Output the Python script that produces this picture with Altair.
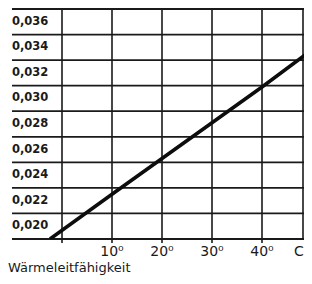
import altair as alt
import pandas as pd

# --- data ---
grid_temps = [0, 10, 20, 30, 40]
grid_lambda = [0.019, 0.021, 0.023, 0.025, 0.027, 0.029, 0.031, 0.033, 0.035, 0.037]
y_label_values = [0.020, 0.022, 0.024, 0.026, 0.028, 0.030, 0.032, 0.034, 0.036]
y_label_texts = ["0,020", "0,022", "0,024", "0,026", "0,028", "0,030", "0,032", "0,034", "0,036"]
x_label_values = [10, 20, 30, 40]
x_label_texts = ["10⁰", "20⁰", "30⁰", "40⁰"]
unit_pos = [47.4]
unit_text = ["C"]
line_temp = [-2.4, 10, 20, 30, 40, 50]
line_lambda = [0.0190, 0.0225, 0.0253, 0.0281, 0.0309, 0.0338]
caption = ["Wärmeleitfähigkeit"]

W, H = 292, 230
FONT = "DejaVu Sans"
INK = "#1a1a1a"

xs = alt.Scale(domain=[-10, 48.4], nice=False, zero=False)
ys = alt.Scale(domain=[0.019, 0.037], nice=False, zero=False)

hgrid = alt.Chart(pd.DataFrame({"lam": grid_lambda})).mark_rule(
    color=INK, strokeWidth=1.8
).encode(
    y=alt.Y("lam:Q", scale=ys, axis=None),
    x=alt.value(0), x2=alt.value(W),
)

vgrid = alt.Chart(pd.DataFrame({"t": grid_temps})).mark_rule(
    color=INK, strokeWidth=1.6
).encode(
    x=alt.X("t:Q", scale=xs, axis=None),
    y=alt.value(0), y2=alt.value(H + 4),
)

right_edge = alt.Chart(pd.DataFrame({"a": [0]})).mark_rule(
    color=INK, strokeWidth=1.6
).encode(x=alt.value(W - 1), y=alt.value(0), y2=alt.value(H))

ylabels = alt.Chart(pd.DataFrame({"v": y_label_values, "s": y_label_texts})).mark_text(
    align="left", baseline="middle", font=FONT, fontSize=11.5, fontWeight="bold", color=INK
).encode(
    y=alt.Y("v:Q", scale=ys, axis=None),
    x=alt.value(0),
    text="s:N",
)

xlabels = alt.Chart(pd.DataFrame({"t": x_label_values, "s": x_label_texts})).mark_text(
    align="center", baseline="alphabetic", font=FONT, fontSize=14, color=INK
).encode(
    x=alt.X("t:Q", scale=xs, axis=None),
    y=alt.value(H + 17),
    text="s:N",
)

unit = alt.Chart(pd.DataFrame({"t": unit_pos, "s": unit_text})).mark_text(
    align="center", baseline="alphabetic", font=FONT, fontSize=14, color=INK
).encode(
    x=alt.X("t:Q", scale=xs, axis=None),
    y=alt.value(H + 17),
    text="s:N",
)

cap = alt.Chart(pd.DataFrame({"s": caption})).mark_text(
    align="left", baseline="alphabetic", font=FONT, fontSize=13, color=INK
).encode(x=alt.value(-4), y=alt.value(H + 33), text="s:N")

line = alt.Chart(pd.DataFrame({"t": line_temp, "lam": line_lambda})).mark_line(
    color="#0d0d0d", strokeWidth=3.6, clip=True
).encode(
    x=alt.X("t:Q", scale=xs, axis=None),
    y=alt.Y("lam:Q", scale=ys, axis=None),
)

chart = alt.layer(hgrid, vgrid, right_edge, line, ylabels, xlabels, unit, cap).properties(
    width=W, height=H,
    padding={"left": 4, "top": 1, "right": 0, "bottom": 37},
    autosize=alt.AutoSizeParams(type="none"),
    background="white",
).configure_view(stroke=None)

chart.save("out.html", embed_options={"renderer": "svg", "actions": False})
